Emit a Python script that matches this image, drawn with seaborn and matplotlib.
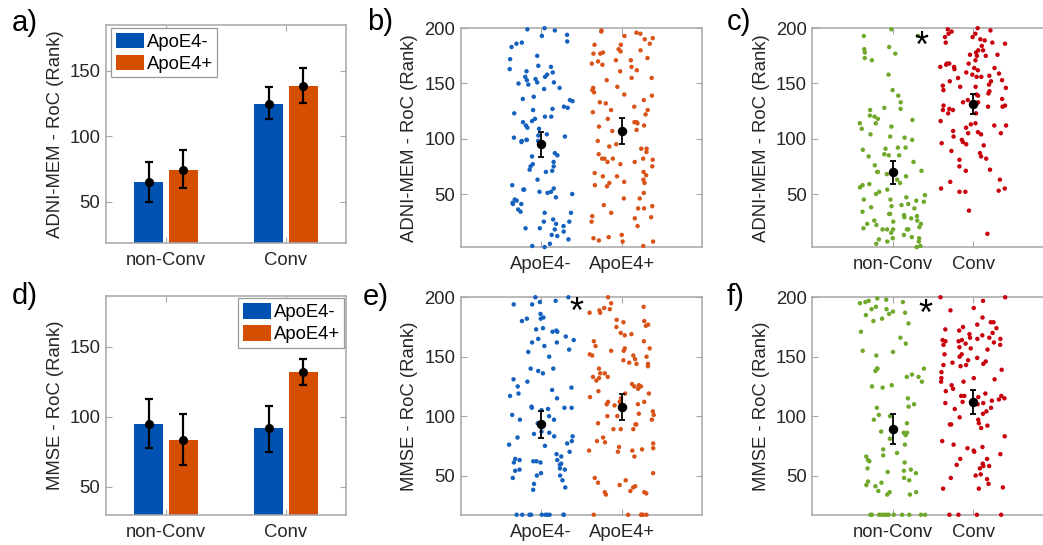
import numpy as np
import pandas as pd
import matplotlib
matplotlib.use("Agg")
import matplotlib.pyplot as plt
import seaborn as sns

# ---------------- data ----------------
conv_groups = ["non-Conv", "Conv"]
apoe_groups = ["ApoE4-", "ApoE4+"]

# bar panels: order = [nonConv/ApoE4-, nonConv/ApoE4+, Conv/ApoE4-, Conv/ApoE4+]
a_mean = [65.0, 74.6, 125.1, 138.8]
a_lo = [49.7, 60.4, 113.2, 125.6]
a_hi = [80.2, 89.3, 137.6, 152.0]

d_mean = [95.0, 83.6, 91.7, 131.9]
d_lo = [77.4, 65.7, 75.2, 122.6]
d_hi = [112.9, 101.9, 107.9, 141.4]

# strip panels (ranks)
b_neg = [200, 198, 199, 193, 194, 188, 186, 187, 183, 175, 172, 166, 165, 161, 160, 158, 163, 156, 156, 154,
         153, 151, 151, 150, 145, 146, 149, 136, 138, 135, 134, 127, 128, 129, 126, 123, 120, 120, 116, 115,
         118, 109, 112, 110, 103, 102, 104, 99, 99, 98, 98, 97, 94, 101, 96, 84, 87, 85, 75, 79,
         77, 71, 75, 70, 72, 63, 58, 54, 50, 54, 55, 52, 47, 52, 51, 42, 41, 41, 36, 45,
         44, 33, 34, 33, 27, 25, 18, 19, 25, 21, 23, 19, 16, 12, 13, 9, 5, 3, 2]
b_pos = [198, 197, 196, 195, 191, 190, 193, 185, 185, 186, 180, 179, 181, 178, 177, 177, 173, 171, 170, 171,
         168, 167, 162, 165, 161, 153, 155, 155, 147, 146, 144, 142, 139, 140, 135, 133, 132, 129, 126, 126,
         124, 122, 118, 114, 111, 115, 112, 108, 107, 115, 98, 93, 95, 88, 86, 91, 91, 81, 82, 82,
         82, 82, 75, 79, 77, 79, 70, 67, 69, 66, 63, 60, 60, 57, 66, 61, 58, 51, 46, 46,
         40, 39, 37, 33, 29, 28, 37, 25, 30, 21, 11, 7, 8, 7, 13, 3, 10]
b_mean = [94.9, 106.6]
b_lo = [83.4, 94.9]
b_hi = [106.3, 118.4]

c_non = [199, 193, 193, 183, 181, 178, 177, 173, 171, 158, 144, 139, 133, 128, 127, 126, 118, 117, 121, 120,
         114, 111, 114, 109, 102, 104, 101, 99, 92, 92, 91, 90, 85, 86, 85, 84, 76, 79, 70, 68,
         71, 70, 59, 66, 63, 60, 58, 54, 56, 50, 47, 45, 52, 49, 43, 39, 41, 40, 45, 44,
         38, 37, 34, 30, 29, 32, 31, 32, 28, 23, 25, 26, 23, 26, 22, 20, 18, 19, 18, 18,
         18, 15, 10, 7, 9, 10, 13, 11, 7, 5, 3, 2, 18]
c_conv = [200, 199, 198, 197, 195, 195, 192, 190, 192, 189, 187, 186, 187, 184, 180, 180, 178, 175, 176, 176,
          171, 175, 167, 168, 168, 168, 165, 165, 163, 164, 162, 164, 158, 159, 160, 157, 156, 156, 155, 153,
          152, 152, 147, 146, 144, 147, 149, 148, 143, 139, 141, 140, 136, 133, 133, 130, 132, 135, 130, 129,
          127, 126, 123, 126, 129, 123, 114, 113, 116, 110, 112, 112, 106, 107, 105, 105, 104, 102, 99, 97,
          95, 96, 94, 89, 87, 84, 82, 81, 75, 72, 71, 61, 63, 55, 53, 52, 52, 55, 35, 14]
c_mean = [69.6, 131.6]
c_lo = [59.0, 122.6]
c_hi = [80.1, 140.7]

e_neg = [200, 200, 197, 196, 194, 194, 186, 182, 183, 180, 182, 174, 171, 171, 172, 173, 165, 167, 162, 162,
         164, 156, 159, 154, 150, 140, 136, 140, 138, 131, 129, 125, 122, 124, 119, 117, 115, 108, 105, 101,
         97, 97, 106, 107, 107, 107, 100, 94, 87, 85, 83, 86, 82, 83, 79, 77, 75, 76, 66, 70,
         68, 62, 62, 63, 64, 56, 52, 48, 46, 43, 54, 63, 55, 55, 59, 60, 61, 50, 50, 61,
         40, 38, 17, 17, 17, 17, 17, 17, 17, 17, 17, 17]
e_pos = [200, 195, 190, 192, 187, 191, 189, 187, 181, 180, 177, 170, 175, 176, 179, 168, 169, 163, 163, 159,
         155, 157, 157, 155, 144, 144, 145, 151, 150, 152, 151, 142, 140, 147, 148, 136, 136, 133, 132, 130,
         133, 123, 125, 126, 127, 125, 121, 119, 116, 115, 112, 112, 112, 110, 109, 119, 104, 110, 101, 102,
         100, 100, 93, 93, 89, 89, 94, 97, 82, 77, 79, 73, 89, 72, 71, 70, 78, 66, 71, 74,
         41, 52, 48, 46, 40, 37, 34, 35, 36, 36, 42, 44, 17, 17, 17, 17, 17, 17]
e_mean = [93.3, 107.5]
e_lo = [81.6, 96.4]
e_hi = [104.7, 118.7]

f_non = [198, 197, 199, 195, 196, 196, 190, 192, 190, 187, 186, 188, 185, 182, 180, 178, 171, 166, 161, 154,
         155, 151, 138, 140, 140, 140, 135, 133, 133, 124, 129, 126, 125, 115, 107, 110, 108, 101, 100, 94,
         86, 87, 97, 87, 84, 81, 86, 76, 72, 66, 61, 67, 69, 63, 62, 53, 54, 56, 55, 52,
         48, 46, 41, 42, 44, 45, 34, 34, 37, 36, 36, 17, 17, 17, 17, 17, 17, 17, 17, 17, 17, 17, 17]
f_conv = [200, 200, 197, 191, 189, 183, 179, 179, 173, 170, 175, 174, 177, 163, 166, 165, 166, 168, 169, 164,
          165, 172, 163, 160, 156, 160, 157, 162, 164, 161, 158, 150, 149, 152, 152, 146, 142, 143, 145, 143,
          144, 147, 139, 137, 131, 132, 126, 129, 132, 129, 117, 115, 116, 117, 114, 112, 111, 123, 117, 119,
          110, 121, 111, 107, 104, 102, 106, 113, 97, 93, 93, 90, 83, 94, 99, 92, 76, 74, 73, 79,
          70, 71, 68, 64, 64, 60, 59, 58, 56, 51, 48, 47, 50, 58, 39, 43, 40, 39, 17, 17, 17, 17]
f_mean = [89.1, 111.7]
f_lo = [76.5, 101.4]
f_hi = [101.4, 121.8]

mem_label = "ADNI-MEM - RoC (Rank)"
mmse_label = "MMSE - RoC (Rank)"

# ---------------- style ----------------
sns.set_theme(style="white")
plt.rcParams['font.family'] = ['Liberation Sans', 'DejaVu Sans']

BAR_COLORS = ["#0052B2", "#D44F02"]
APOE_PT = ["#1462BE", "#D95319"]
CONV_PT = ["#6FA82A", "#C8000C"]
SPINE = "#A6A6A6"
TXT = "#262626"
FS = 13.3
BAR_W = 0.58
BAR_GAP = 0.186

fig = plt.figure(figsize=(10.43, 5.45), dpi=100)
W, H = 1043.0, 545.0


def add_ax(x0, x1, y0, y1):
    return fig.add_axes([x0 / W, 1 - y1 / H, (x1 - x0) / W, (y1 - y0) / H])


def style(ax, ylabel):
    for s in ax.spines.values():
        s.set_visible(True)
        s.set_color(SPINE)
        s.set_linewidth(1.1)
    ax.tick_params(axis='both', direction='in', length=4, width=0.8, color=SPINE,
                   top=True, right=True, bottom=True, left=True,
                   labelsize=FS, labelcolor=TXT)
    ax.tick_params(axis='x', pad=6.5)
    ax.tick_params(axis='y', pad=4)
    ax.set_xlabel("")
    ax.set_ylabel(ylabel, fontsize=FS, color=TXT)
    ax.yaxis.set_label_coords(-0.175, 0.5)
    ax.set_facecolor("white")


def bar_panel(ax, means, lo, hi, ylim, ylabel, loc, anchor):
    df = pd.DataFrame({"group": np.repeat(conv_groups, 2),
                       "apoe": apoe_groups * 2,
                       "val": means})
    sns.barplot(data=df, x="group", y="val", hue="apoe", order=conv_groups,
                hue_order=apoe_groups, palette=BAR_COLORS, saturation=1,
                width=BAR_W, gap=BAR_GAP, errorbar=None, linewidth=0, ax=ax)
    m = np.array(means)
    xs = [i + (j - 0.5) * BAR_W / 2 for i in range(2) for j in range(2)]
    ax.errorbar(xs, m, yerr=[m - np.array(lo), np.array(hi) - m], fmt='o', color='black',
                ms=5.5, lw=1.6, capsize=2.6, capthick=1.6, zorder=5)
    ax.set_xlim(-0.5, 1.5)
    ax.set_ylim(*ylim)
    ax.set_yticks([50, 100, 150])
    leg = ax.get_legend()
    handles = leg.legend_handles
    labels = [t.get_text() for t in leg.get_texts()]
    leg.remove()
    ax.legend(handles, labels, loc=loc, bbox_to_anchor=anchor, borderaxespad=0,
              fontsize=FS, frameon=True, fancybox=False, edgecolor="#9A9A9A",
              framealpha=1, handlelength=1.54, handleheight=0.94, handletextpad=0.12,
              labelspacing=0.2, borderpad=0.25)
    ax.get_legend().get_frame().set_linewidth(0.9)
    for t in ax.get_legend().get_texts():
        t.set_color("black")
    style(ax, ylabel)


def strip_panel(ax, groups, names, colors, means, lo, hi, ylim, ylabel, star=None):
    df = pd.DataFrame({"group": np.repeat(names, [len(g) for g in groups]),
                       "val": np.concatenate(groups)})
    sns.stripplot(data=df, x="group", y="val", hue="group", order=names, hue_order=names,
                  palette=colors, jitter=0.41, size=3.2, linewidth=0, legend=False, ax=ax)
    for coll in ax.collections:
        coll.set_clip_on(False)
    m = np.array(means)
    ax.errorbar([0, 1], m, yerr=[m - np.array(lo), np.array(hi) - m], fmt='o', color='black',
                ms=5.8, lw=1.3, capsize=2.5, capthick=1.3, zorder=5)
    ax.set_xlim(-1, 2)
    ax.set_ylim(*ylim)
    ax.set_yticks([50, 100, 150, 200])
    if star is not None:
        ax.text(star[0], star[1], "*", fontsize=26, ha='center', va='center', color='black')
    style(ax, ylabel)


np.random.seed(3)

ax_a = add_ax(106, 346, 24.5, 243)
bar_panel(ax_a, a_mean, a_lo, a_hi, (18.5, 185.5), mem_label, "upper left", (0.022, 0.984))

ax_d = add_ax(106, 346, 296, 515)
bar_panel(ax_d, d_mean, d_lo, d_hi, (30, 186), mmse_label, "upper right", (0.993, 0.99))

ax_b = add_ax(460.7, 702, 28, 247.3)
strip_panel(ax_b, [b_neg, b_pos], apoe_groups, APOE_PT, b_mean, b_lo, b_hi,
            (1.8, 200.2), mem_label)

ax_c = add_ax(812.3, 1053.6, 28, 247.3)
strip_panel(ax_c, [c_non, c_conv], conv_groups, CONV_PT, c_mean, c_lo, c_hi,
            (1.8, 200.2), mem_label, star=(0.36, 183))

ax_e = add_ax(460.7, 702, 296.7, 515)
strip_panel(ax_e, [e_neg, e_pos], apoe_groups, APOE_PT, e_mean, e_lo, e_hi,
            (16.8, 200.5), mmse_label, star=(0.44, 186))

ax_f = add_ax(812.3, 1053.6, 296.7, 515)
strip_panel(ax_f, [f_non, f_conv], conv_groups, CONV_PT, f_mean, f_lo, f_hi,
            (16.8, 200.5), mmse_label, star=(0.41, 185))

letters = [("a)", 12, 23), ("b)", 367, 22.5), ("c)", 727, 22.5),
           ("d)", 12, 296), ("e)", 363, 297), ("f)", 727, 297)]
for txt, x, y in letters:
    fig.text(x / W, 1 - y / H, txt, fontsize=21, ha='left', va='center', color='black')

fig.savefig("out.png", dpi=100, facecolor="white")
